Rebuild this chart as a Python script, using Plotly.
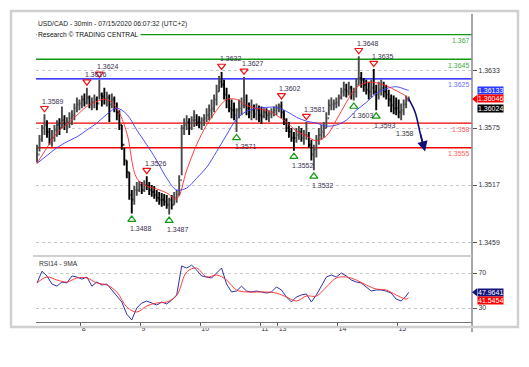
import plotly.graph_objects as go

# ---------------- data ----------------
# hourly bars, index = hours since first bar
high = [1.3558, 1.3568, 1.3578, 1.3589, 1.3583, 1.3575, 1.3573, 1.3578, 1.3583, 1.3585,
        1.3597, 1.3588, 1.3586, 1.3591, 1.3593, 1.3600, 1.3606, 1.3604, 1.3608, 1.3610,
        1.3616, 1.3608, 1.3606, 1.3609, 1.3607, 1.3624, 1.3611, 1.3616, 1.3612, 1.3609,
        1.3610, 1.3607, 1.3601, 1.3593, 1.3578, 1.3555, 1.3542, 1.3530, 1.3512, 1.3516,
        1.3520, 1.3521, 1.3520, 1.3522, 1.3526, 1.3520, 1.3517, 1.3516, 1.3512, 1.3510,
        1.3509, 1.3508, 1.3507, 1.3504, 1.3507, 1.3510, 1.3512, 1.3527, 1.3578, 1.3585,
        1.3588, 1.3585, 1.3587, 1.3593, 1.3589, 1.3587, 1.3586, 1.3589, 1.3595, 1.3599,
        1.3604, 1.3609, 1.3619, 1.3628, 1.3632, 1.3624, 1.3616, 1.3609, 1.3604, 1.3601,
        1.3595, 1.3604, 1.3606, 1.3627, 1.3609, 1.3601, 1.3604, 1.3599, 1.3600, 1.3598,
        1.3597, 1.3595, 1.3595, 1.3593, 1.3595, 1.3597, 1.3599, 1.3600, 1.3602, 1.3593,
        1.3585, 1.3581, 1.3575, 1.3571, 1.3575, 1.3577, 1.3575, 1.3573, 1.3581, 1.3571,
        1.3563, 1.3558, 1.3568, 1.3575, 1.3578, 1.3581, 1.3591, 1.3604, 1.3606, 1.3604,
        1.3606, 1.3609, 1.3616, 1.3622, 1.3620, 1.3622, 1.3618, 1.3616, 1.3626, 1.3648,
        1.3632, 1.3626, 1.3624, 1.3622, 1.3624, 1.3635, 1.3619, 1.3622, 1.3624, 1.3622,
        1.3619, 1.3614, 1.3609, 1.3608, 1.3606, 1.3604, 1.3600, 1.3604, 1.3608, 1.3607]
low = [1.3540, 1.3551, 1.3561, 1.3568, 1.3565, 1.3558, 1.3556, 1.3561, 1.3566, 1.3568,
       1.3575, 1.3573, 1.3570, 1.3575, 1.3578, 1.3583, 1.3591, 1.3593, 1.3595, 1.3597,
       1.3599, 1.3595, 1.3593, 1.3595, 1.3593, 1.3604, 1.3597, 1.3599, 1.3597, 1.3581,
       1.3595, 1.3591, 1.3583, 1.3573, 1.3553, 1.3537, 1.3524, 1.3502, 1.3488, 1.3497,
       1.3506, 1.3510, 1.3508, 1.3510, 1.3512, 1.3507, 1.3505, 1.3503, 1.3500, 1.3497,
       1.3495, 1.3496, 1.3493, 1.3487, 1.3492, 1.3497, 1.3499, 1.3506, 1.3527, 1.3568,
       1.3573, 1.3568, 1.3573, 1.3576, 1.3577, 1.3575, 1.3573, 1.3577, 1.3581, 1.3583,
       1.3585, 1.3591, 1.3598, 1.3612, 1.3616, 1.3604, 1.3595, 1.3591, 1.3585, 1.3583,
       1.3571, 1.3585, 1.3588, 1.3595, 1.3588, 1.3585, 1.3583, 1.3585, 1.3583, 1.3581,
       1.3579, 1.3585, 1.3583, 1.3581, 1.3585, 1.3587, 1.3588, 1.3591, 1.3585, 1.3578,
       1.3571, 1.3565, 1.3561, 1.3552, 1.3560, 1.3563, 1.3561, 1.3558, 1.3563, 1.3555,
       1.3542, 1.3532, 1.3545, 1.3558, 1.3563, 1.3565, 1.3575, 1.3588, 1.3593, 1.3593,
       1.3595, 1.3597, 1.3604, 1.3607, 1.3606, 1.3608, 1.3604, 1.3603, 1.3606, 1.3619,
       1.3616, 1.3612, 1.3609, 1.3604, 1.3606, 1.3609, 1.3593, 1.3604, 1.3608, 1.3606,
       1.3604, 1.3597, 1.3591, 1.3589, 1.3588, 1.3585, 1.3583, 1.3588, 1.3595, 1.3602]
close = [1.3548, 1.3563, 1.3575, 1.3578, 1.3571, 1.3563, 1.3565, 1.3573, 1.3578, 1.3575,
         1.3583, 1.3578, 1.3581, 1.3585, 1.3588, 1.3595, 1.3599, 1.3600, 1.3604, 1.3601,
         1.3606, 1.3599, 1.3601, 1.3604, 1.3600, 1.3609, 1.3607, 1.3604, 1.3606, 1.3599,
         1.3604, 1.3595, 1.3591, 1.3578, 1.3558, 1.3542, 1.3530, 1.3507, 1.3502, 1.3512,
         1.3512, 1.3517, 1.3512, 1.3517, 1.3516, 1.3512, 1.3510, 1.3507, 1.3504, 1.3502,
         1.3502, 1.3500, 1.3497, 1.3502, 1.3497, 1.3504, 1.3507, 1.3522, 1.3575, 1.3578,
         1.3581, 1.3575, 1.3583, 1.3583, 1.3581, 1.3581, 1.3583, 1.3585, 1.3588, 1.3593,
         1.3595, 1.3604, 1.3612, 1.3622, 1.3619, 1.3609, 1.3604, 1.3595, 1.3593, 1.3588,
         1.3593, 1.3595, 1.3598, 1.3598, 1.3595, 1.3591, 1.3593, 1.3589, 1.3593, 1.3588,
         1.3587, 1.3591, 1.3588, 1.3589, 1.3591, 1.3593, 1.3595, 1.3597, 1.3591, 1.3583,
         1.3575, 1.3571, 1.3565, 1.3565, 1.3568, 1.3571, 1.3565, 1.3568, 1.3568, 1.3558,
         1.3548, 1.3553, 1.3563, 1.3568, 1.3571, 1.3575, 1.3585, 1.3598, 1.3599, 1.3600,
         1.3601, 1.3606, 1.3612, 1.3614, 1.3612, 1.3616, 1.3609, 1.3612, 1.3619, 1.3626,
         1.3624, 1.3619, 1.3614, 1.3612, 1.3616, 1.3612, 1.3609, 1.3614, 1.3616, 1.3612,
         1.3609, 1.3604, 1.3598, 1.3595, 1.3595, 1.3591, 1.3593, 1.3599, 1.3604, 1.36046]
first_open = 1.3545

# moving averages sampled every 4 hours (+ last bar)
ma_fast = [1.3539, 1.3555, 1.3570, 1.3579, 1.3588, 1.3597, 1.3602, 1.3604, 1.3595, 1.3570,
           1.3524, 1.3516, 1.3513, 1.3509, 1.3503, 1.3532, 1.3558, 1.3578, 1.3593, 1.3604,
           1.3604, 1.3598, 1.3595, 1.3593, 1.3588, 1.3581, 1.3572, 1.3567, 1.3562, 1.3567,
           1.3583, 1.3601, 1.3616, 1.3621, 1.3621, 1.3618, 1.3613, 1.3607, 1.36024]
ma_slow = [1.3539, 1.3547, 1.3555, 1.3561, 1.3566, 1.3573, 1.3580, 1.3589, 1.3595, 1.3589,
           1.3573, 1.3558, 1.3542, 1.3524, 1.3512, 1.3514, 1.3524, 1.3535, 1.3551, 1.3568,
           1.3584, 1.3592, 1.3595, 1.3596, 1.3596, 1.3592, 1.3586, 1.3582, 1.3580, 1.3577,
           1.3578, 1.3583, 1.3593, 1.3601, 1.3610, 1.3615, 1.3617, 1.3614, 1.36133]

# RSI(14) every 2 hours (+ last bar), and its 9MA every 4 hours (+ last bar)
rsi = [58.6, 72.0, 66.6, 57.4, 55.0, 59.7, 58.6, 66.6, 65.4, 63.0,
       65.4, 55.0, 59.7, 56.3, 57.4, 50.6, 42.6, 36.9, 23.0, 16.3,
       30.0, 35.7, 38.0, 35.7, 33.4, 36.9, 34.6, 39.1, 44.9, 78.0,
       75.7, 79.0, 73.4, 66.6, 65.4, 64.3, 70.0, 75.7, 57.4, 48.3,
       49.4, 55.0, 49.4, 48.3, 49.4, 48.3, 47.1, 48.3, 54.0, 50.6,
       42.6, 36.9, 42.6, 44.9, 46.0, 36.9, 44.9, 55.0, 65.4, 67.7,
       65.4, 70.0, 66.6, 62.0, 59.7, 58.6, 54.0, 49.4, 50.6, 50.6,
       49.4, 47.1, 40.2, 38.0, 43.7, 47.9641]
rsi_ma = [58.6, 65.4, 62.0, 59.7, 64.3, 64.3, 58.6, 56.3, 48.3, 31.1,
          25.4, 32.3, 35.7, 36.9, 44.3, 71.1, 75.7, 65.4, 67.7, 62.0,
          50.6, 48.3, 48.3, 48.3, 47.1, 42.6, 38.0, 43.7, 43.7, 54.0,
          64.3, 65.4, 62.0, 56.3, 51.7, 50.6, 44.9, 40.2, 41.5454]

# swing highs / lows (bar index, price)
swing_hi_t = [3, 20, 25, 44, 74, 83, 98, 108, 129, 135]
swing_hi_p = [1.3589, 1.3616, 1.3624, 1.3526, 1.3632, 1.3627, 1.3602, 1.3581, 1.3648, 1.3635]
swing_lo_t = [38, 53, 80, 103, 111, 127, 136]
swing_lo_p = [1.3488, 1.3487, 1.3571, 1.3552, 1.3532, 1.3603, 1.3593]

# key levels
levels = [1.367, 1.3645, 1.3625, 1.358, 1.3555]
level_labels = ["1.367", "1.3645", "1.3625", "1.358", "1.3555"]
level_colors = ["#119911", "#119911", "#0000ff", "#ee0000", "#ee0000"]
level_text_colors = ["#44aa44", "#44aa44", "#7070ff", "#ff6060", "#ff6060"]

# projected path
proj_t = [149, 151.6, 153.6, 155.6]
proj_p = [1.36046, 1.3591, 1.3570, 1.3551]
proj_label = "1.358"

# axes
price_ticks = [1.3459, 1.3517, 1.3575, 1.3633]
rsi_ticks = [30, 70]
day_ticks = [17.5, 41.5, 65.5, 89.5, 96.5, 120.5, 144.5]
day_labels = ["8", "9", "10", "11", "13", "14", "15"]

title_1 = "USD/CAD - 30min - 07/15/2020 06:07:32 (UTC+2)"
title_2 = "Research \u00a9 TRADING CENTRAL"

# ---------------- figure ----------------
W, H = 529, 367
OFF = 8  # page body margin
FONT = "Liberation Sans, Arial, sans-serif"


def px_x(p):
    return (p - OFF) / W


def px_y(p):
    return 1 - (p - OFF) / H


t = list(range(len(close)))
opens = [first_open] + close[:-1]
ma_t = list(range(0, 149, 4)) + [149]
rsi_t = list(range(0, 150, 2)) + [149]

X_RANGE = [-0.4, 174.4]
Y_RANGE = [1.34489, 1.36869]
R_RANGE = [14.0, 88.3]
main_top, main_bot = 18, 252
rsi_top, rsi_bot = 257, 322
plot_l, plot_r = 36, 472
price_per_px = (Y_RANGE[1] - Y_RANGE[0]) / (main_bot - main_top)
rsi_per_px = (R_RANGE[1] - R_RANGE[0]) / (rsi_bot - rsi_top)

fig = go.Figure()

fig.add_trace(go.Ohlc(x=t, open=opens, high=high, low=low, close=close,
                      increasing_line_color="#4a4a4a", decreasing_line_color="#000000",
                      line_width=1.9, tickwidth=0.45, xaxis="x", yaxis="y", hoverinfo="skip"))
fig.add_trace(go.Scatter(x=ma_t, y=ma_slow, mode="lines", line=dict(color="#3a3aff", width=0.9, shape="spline"),
                         xaxis="x", yaxis="y", hoverinfo="skip"))
fig.add_trace(go.Scatter(x=ma_t, y=ma_fast, mode="lines", line=dict(color="#ff2a2a", width=0.9, shape="spline"),
                         xaxis="x", yaxis="y", hoverinfo="skip"))

# swing markers
off = 6 * price_per_px
fig.add_trace(go.Scatter(x=swing_hi_t, y=[p + off for p in swing_hi_p], mode="markers",
                         marker=dict(symbol="triangle-down-open", size=7, color="#ee1111", line=dict(width=1.2)),
                         xaxis="x", yaxis="y", hoverinfo="skip"))
fig.add_trace(go.Scatter(x=swing_lo_t, y=[p - off for p in swing_lo_p], mode="markers",
                         marker=dict(symbol="triangle-up-open", size=7, color="#119911", line=dict(width=1.2)),
                         xaxis="x", yaxis="y", hoverinfo="skip"))

# projection
fig.add_trace(go.Scatter(x=proj_t[:-1] + [proj_t[-1] - 0.4], y=proj_p[:-1] + [proj_p[-1] + 8 * price_per_px * 0.4],
                         mode="lines", line=dict(color="#10107a", width=1.6, shape="spline"),
                         xaxis="x", yaxis="y", hoverinfo="skip"))

# RSI
fig.add_trace(go.Scatter(x=rsi_t, y=rsi, mode="lines", line=dict(color="#1a1a9a", width=0.9),
                         xaxis="x2", yaxis="y2", hoverinfo="skip"))
fig.add_trace(go.Scatter(x=ma_t, y=rsi_ma, mode="lines", line=dict(color="#ff2a2a", width=0.9, shape="spline"),
                         xaxis="x2", yaxis="y2", hoverinfo="skip"))

shapes = []
for lv, c in zip(levels, level_colors):
    shapes.append(dict(type="line", xref="x domain", yref="y", x0=0, x1=1, y0=lv, y1=lv,
                       line=dict(color=c, width=1.4), layer="below"))
# right axis line, RSI top border, outer frame
shapes.append(dict(type="line", xref="paper", yref="paper", x0=px_x(plot_r), x1=px_x(plot_r),
                   y0=px_y(14), y1=px_y(332), line=dict(color="#8a8a8a", width=1.5)))
shapes.append(dict(type="line", xref="paper", yref="paper", x0=px_x(33), x1=px_x(plot_r),
                   y0=px_y(rsi_top - 1), y1=px_y(rsi_top - 1), line=dict(color="#c0c0c0", width=1.5)))
shapes.append(dict(type="rect", xref="paper", yref="paper", x0=px_x(11), x1=px_x(518),
                   y0=px_y(327), y1=px_y(11), line=dict(color="#d0d0d0", width=2.5)))

annotations = []
annotations.append(dict(text=title_1, xref="paper", yref="paper", x=px_x(36), y=px_y(24), xanchor="left",
                        yanchor="middle", showarrow=False, font=dict(size=6.7, color="#222", family=FONT)))
annotations.append(dict(text=title_2, xref="paper", yref="paper", x=px_x(36), y=px_y(35), xanchor="left",
                        yanchor="middle", showarrow=False, bgcolor="white", borderpad=1,
                        font=dict(size=6.7, color="#111", family=FONT)))
annotations.append(dict(text="RSI14 - 9MA", xref="paper", yref="paper", x=px_x(37), y=px_y(263), xanchor="left",
                        yanchor="middle", showarrow=False, font=dict(size=6.7, color="#333", family=FONT)))
for lv, lab, c in zip(levels, level_labels, level_text_colors):
    annotations.append(dict(text=lab, xref="x domain", yref="y", x=1, y=lv, xanchor="right", yanchor="top",
                            yshift=-0.5, showarrow=False, font=dict(size=7, color=c, family=FONT)))
for tt, p in zip(swing_hi_t, swing_hi_p):
    annotations.append(dict(text=f"{p:.4f}", x=tt, y=p, xref="x", yref="y", xshift=9, yshift=13,
                            showarrow=False, font=dict(size=7, color="#3a3050", family=FONT)))
for tt, p in zip(swing_lo_t, swing_lo_p):
    annotations.append(dict(text=f"{p:.4f}", x=tt, y=p, xref="x", yref="y", xshift=9, yshift=-15,
                            showarrow=False, font=dict(size=7, color="#3a3050", family=FONT)))
# projection arrow head and label
annotations.append(dict(x=proj_t[-1], y=proj_p[-1], ax=proj_t[-2], ay=proj_p[-2], xref="x", yref="y",
                        axref="x", ayref="y", showarrow=True, arrowhead=2, arrowsize=1.3, arrowwidth=1.6,
                        arrowcolor="#10107a", text=""))
annotations.append(dict(text=proj_label, x=proj_t[2], y=proj_p[2], xref="x", yref="y", xanchor="right",
                        xshift=-4, yshift=-1, showarrow=False, font=dict(size=7, color="#333", family=FONT)))

# value boxes
box_x = px_x(477)
price_boxes = [(f"{ma_slow[-1]:.5f}", ma_slow[-1], "#2a3cff", 0, False),
               (f"{close[-1]:.5f}", close[-1], "#ff0000", 0, True),
               (f"{ma_fast[-1]:.5f}", ma_fast[-1], "#000000", -7, False)]
for txt, v, col, sh, ptr in price_boxes:
    annotations.append(dict(text=txt, xref="paper", yref="y", x=box_x, y=v, xanchor="left", yanchor="middle",
                            yshift=sh, showarrow=False, bgcolor=col, borderpad=0,
                            font=dict(size=7, color="white", family=FONT)))
    if ptr:
        d = 4 * price_per_px
        shapes.append(dict(type="path", xref="paper", yref="y",
                           path=f"M {px_x(plot_r)},{v} L {box_x},{v + d} L {box_x},{v - d} Z",
                           fillcolor=col, line=dict(width=0)))
rsi_boxes = [(f"{rsi[-1]:.4f}", rsi[-1], "#14147a", 0, True),
             (f"{rsi_ma[-1]:.4f}", rsi_ma[-1], "#ff0000", -2.5, False)]
for txt, v, col, sh, ptr in rsi_boxes:
    annotations.append(dict(text=txt, xref="paper", yref="y2", x=box_x, y=v, xanchor="left", yanchor="middle",
                            yshift=sh, showarrow=False, bgcolor=col, borderpad=0,
                            font=dict(size=7, color="white", family=FONT)))
    if ptr:
        d = 4 * rsi_per_px
        shapes.append(dict(type="path", xref="paper", yref="y2",
                           path=f"M {px_x(plot_r)},{v} L {box_x},{v + d} L {box_x},{v - d} Z",
                           fillcolor=col, line=dict(width=0)))

axis_font = dict(size=7, color="#333", family=FONT)
fig.update_layout(
    width=W, height=H, margin=dict(l=0, r=0, t=0, b=0), showlegend=False,
    paper_bgcolor="white", plot_bgcolor="white",
    xaxis=dict(domain=[px_x(plot_l), px_x(plot_r)], range=X_RANGE, anchor="y", showticklabels=False,
               showgrid=False, zeroline=False, showline=False, ticks="", rangeslider=dict(visible=False)),
    xaxis2=dict(domain=[px_x(plot_l), px_x(plot_r)], range=X_RANGE, anchor="y2", matches="x",
                tickvals=day_ticks, ticktext=day_labels, ticks="outside", ticklen=4, tickcolor="#555",
                ticklabelposition="outside right", showgrid=False, zeroline=False, showline=True,
                linecolor="#777", linewidth=1, tickfont=axis_font),
    yaxis=dict(domain=[px_y(main_bot), px_y(main_top)], range=Y_RANGE, side="right", anchor="x",
               tickvals=price_ticks, ticktext=[f"{v:.4f}" for v in price_ticks], ticks="outside", ticklen=4,
               tickcolor="#555", showgrid=True, gridcolor="#c8c8c8", griddash="dot", gridwidth=1,
               zeroline=False, showline=False, tickfont=axis_font),
    yaxis2=dict(domain=[px_y(rsi_bot), px_y(rsi_top)], range=R_RANGE, side="right", anchor="x2",
                tickvals=rsi_ticks, ticktext=[str(v) for v in rsi_ticks], ticks="outside", ticklen=4,
                tickcolor="#555", showgrid=True, gridcolor="#c8c8c8", griddash="dot", gridwidth=1,
                zeroline=False, showline=False, tickfont=axis_font),
    shapes=shapes, annotations=annotations,
)

fig.write_html("out.html")
